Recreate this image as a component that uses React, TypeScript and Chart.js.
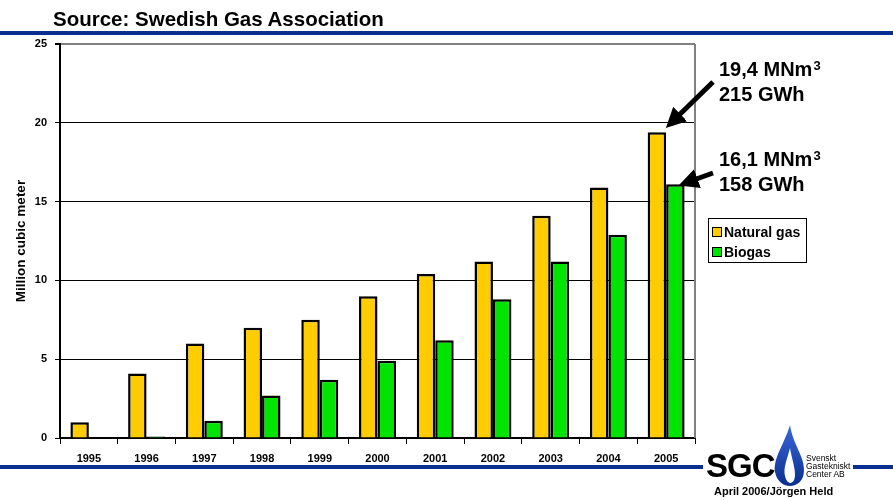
import React, { useEffect, useRef } from "react";
import { Chart, registerables } from "chart.js";

Chart.register(...registerables);

const years = ["1995", "1996", "1997", "1998", "1999", "2000", "2001", "2002", "2003", "2004", "2005"];
const naturalGas = [1.0, 4.1, 6.0, 7.0, 7.5, 9.0, 10.4, 11.2, 14.1, 15.9, 19.4];
const biogas = [0, 0.1, 1.1, 2.7, 3.7, 4.9, 6.2, 8.8, 11.2, 12.9, 16.1];
const seriesNames = ["Natural gas", "Biogas"];
const seriesColors = ["#ffcc00", "#00e400"];
const yMin = 0;
const yMax = 25;
const yStep = 5;

const FONT = "'Liberation Sans', Arial, sans-serif";

const frameBorder = {
  id: "frameBorder",
  afterDraw(chart: any) {
    const { ctx, chartArea } = chart;
    ctx.save();
    ctx.strokeStyle = "#808080";
    ctx.lineWidth = 2;
    ctx.beginPath();
    ctx.moveTo(chartArea.right, chartArea.top);
    ctx.lineTo(chartArea.right, chartArea.bottom);
    ctx.stroke();
    ctx.restore();
  },
};

export default function App() {
  const ref = useRef<HTMLCanvasElement>(null);

  useEffect(() => {
    document.body.style.margin = "0";
    const chart = new Chart(ref.current!, {
      type: "bar",
      data: {
        labels: years,
        datasets: [
          {
            label: seriesNames[0],
            data: naturalGas,
            backgroundColor: seriesColors[0],
            borderColor: "#000",
            borderWidth: 2.5,
            categoryPercentage: 0.64,
            barPercentage: 1.0,
          },
          {
            label: seriesNames[1],
            data: biogas,
            backgroundColor: seriesColors[1],
            borderColor: "#000",
            borderWidth: 2.5,
            categoryPercentage: 0.64,
            barPercentage: 1.0,
          },
        ],
      },
      options: {
        animation: false,
        responsive: false,
        maintainAspectRatio: false,
        layout: { padding: { top: 44, right: 198, left: 13, bottom: 0 } },
        plugins: { legend: { display: false }, tooltip: { enabled: false } },
        scales: {
          x: {
            grid: {
              offset: true,
              drawOnChartArea: false,
              drawTicks: true,
              tickLength: 6,
              tickColor: "#000",
            },
            border: { color: "#000", width: 2 },
            ticks: {
              color: "#000",
              font: { family: FONT, size: 11, weight: "bold" },
              padding: 8,
            },
            afterFit: (s: any) => {
              s.height = 63;
            },
          },
          y: {
            min: yMin,
            max: yMax,
            ticks: {
              stepSize: yStep,
              color: "#000",
              font: { family: FONT, size: 11, weight: "bold" },
              padding: 8,
            },
            grid: {
              color: (c: any) => (c.tick && c.tick.value === yMax ? "#808080" : "#000"),
              lineWidth: (c: any) => (c.tick && c.tick.value === yMax ? 2 : 1),
              tickColor: "#000",
              tickLength: 5,
            },
            border: { color: "#000", width: 2 },
            title: {
              display: true,
              text: "Million cubic meter",
              color: "#000",
              font: { family: FONT, size: 13.5, weight: "bold" },
              padding: { top: 0, bottom: 0 },
            },
            afterFit: (s: any) => {
              s.width = 47;
            },
          },
        },
      },
      plugins: [frameBorder],
    });
    return () => chart.destroy();
  }, []);

  const annStyle: React.CSSProperties = {
    position: "absolute",
    fontFamily: FONT,
    fontWeight: "bold",
    fontSize: 20,
    lineHeight: "25px",
    color: "#000",
    whiteSpace: "nowrap",
  };
  const supStyle: React.CSSProperties = { fontSize: 13, verticalAlign: "top", lineHeight: "13px", position: "relative", top: 2, marginLeft: 1 };

  return (
    <div style={{ position: "absolute", left: 0, top: 0, width: 893, height: 501, background: "#fff", overflow: "hidden" }}>
      <canvas ref={ref} width={893} height={501} style={{ position: "absolute", left: 0, top: 0 }} />
      <div style={{ position: "absolute", left: 0, top: 31, width: 893, height: 4, background: "#0a2f8f" }} />
      <div style={{ position: "absolute", left: 0, top: 465, width: 703, height: 4, background: "#0a2f8f" }} />
      <div style={{ position: "absolute", left: 853, top: 465, width: 40, height: 4, background: "#0a2f8f" }} />
      <div style={{ position: "absolute", left: 53, top: 7, fontFamily: FONT, fontWeight: "bold", fontSize: 20.5, lineHeight: "24px", color: "#000", whiteSpace: "nowrap" }}>
        Source: Swedish Gas Association
      </div>
      <div style={{ ...annStyle, left: 719, top: 57 }}>
        19,4 MNm<sup style={supStyle}>3</sup>
        <br />215 GWh
      </div>
      <div style={{ ...annStyle, left: 719, top: 147 }}>
        16,1 MNm<sup style={supStyle}>3</sup>
        <br />158 GWh
      </div>
      <svg width={893} height={501} style={{ position: "absolute", left: 0, top: 0, pointerEvents: "none" }}>
        <defs>
          <marker id="ah" markerWidth="4" markerHeight="4" refX="2" refY="2" orient="auto">
            <path d="M0,0 L4,2 L0,4 Z" fill="#000" />
          </marker>
          <linearGradient id="fl" x1="0" y1="0" x2="0" y2="1">
            <stop offset="0" stopColor="#3a66d8" />
            <stop offset="1" stopColor="#0a2f8f" />
          </linearGradient>
        </defs>
        <line x1={713} y1={82} x2={673} y2={121} stroke="#000" strokeWidth={5} markerEnd="url(#ah)" />
        <line x1={713} y1={173} x2={688} y2={182} stroke="#000" strokeWidth={5} markerEnd="url(#ah)" />
        <path d="M790,425 C784,445 773,458 775,472 C777,482 784,486 790,486 C797,486 804,481 804,470 C804,455 793,445 790,425 Z" fill="url(#fl)" />
        <path d="M790,448 C787,460 783,468 785,476 C786,481 789,483 790,483 C792,483 795,481 795,475 C795,466 792,460 790,448 Z" fill="#fff" />
      </svg>
      <div style={{ position: "absolute", left: 706, top: 448, fontFamily: FONT, fontWeight: "bold", fontSize: 33, letterSpacing: -1, color: "#000", lineHeight: "36px" }}>
        SGC
      </div>
      <div style={{ position: "absolute", left: 806, top: 454, fontFamily: FONT, fontSize: 8.5, lineHeight: "8px", color: "#000" }}>
        Svenskt<br />Gastekniskt<br />Center AB
      </div>
      <div style={{ position: "absolute", left: 714, top: 485, fontFamily: FONT, fontWeight: "bold", fontSize: 11, color: "#000", whiteSpace: "nowrap" }}>
        April 2006/Jörgen Held
      </div>
      <div style={{ position: "absolute", left: 708, top: 218, width: 97, height: 43, border: "1px solid #000", fontFamily: FONT, fontWeight: "bold", fontSize: 14, color: "#000" }}>
        {seriesNames.map((n, i) => (
          <div key={n} style={{ position: "absolute", left: 3, top: 5 + i * 20, whiteSpace: "nowrap", lineHeight: "16px" }}>
            <span style={{ display: "inline-block", width: 8, height: 8, background: seriesColors[i], border: "1px solid #000", marginRight: 2, verticalAlign: "middle", position: "relative", top: -1 }} />
            {n}
          </div>
        ))}
      </div>
    </div>
  );
}
